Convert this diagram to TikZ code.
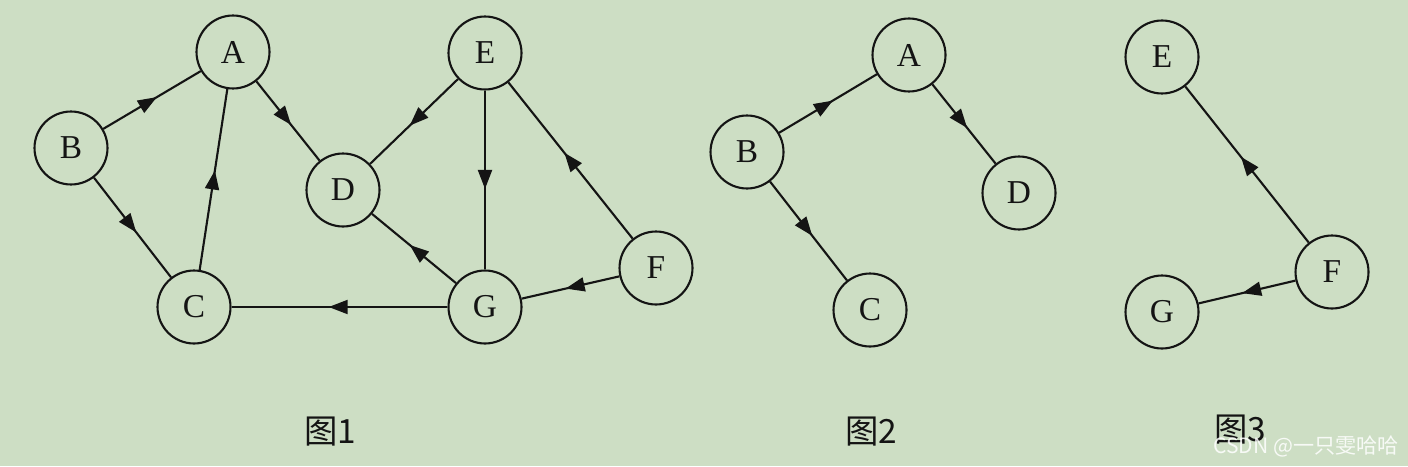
\documentclass[tikz,border=0pt]{standalone}
\usepackage{fontspec}
\setmainfont{Liberation Serif}
\newfontfamily\cjk{Noto Sans CJK SC}
\usepackage{tikz}
\usetikzlibrary{arrows.meta,decorations.markings}
\definecolor{paper}{RGB}{205,222,196}
\definecolor{inkc}{RGB}{20,20,20}
\tikzset{
  vtx/.style={circle, draw=inkc, line width=1.2pt, minimum size=1.46cm,
    inner sep=0pt, font=\fontsize{19}{19}\selectfont, text=inkc},
  edgeln/.style={line width=1.2pt, draw=inkc},
  midarr/.style={edgeln, postaction={decorate}, decoration={markings,
    mark=at position 0.55 with {\arrow{Triangle[length=3.8mm,width=2.8mm]}}}},
  caption/.style={font=\cjk\fontsize{19}{19}\selectfont, text=inkc},
}
\begin{document}
\begin{tikzpicture}[x=0.02cm, y=-0.02cm]
  % background
  \fill[paper] (0,0) rectangle (1408,466);
  \useasboundingbox (0,0) rectangle (1408,466);
  % figure 1
  \node[vtx] (A1) at (233,52) {A};
  \node[vtx] (B1) at (71,148) {B};
  \node[vtx] (C1) at (194,307) {C};
  \node[vtx] (D1) at (343,190) {D};
  \node[vtx] (E1) at (485,53) {E};
  \node[vtx] (G1) at (485,307) {G};
  \node[vtx] (F1) at (656,268) {F};
  \foreach \s/\t in {B1/A1, A1/D1, B1/C1, C1/A1, E1/D1, E1/G1, F1/E1,
                     G1/D1, F1/G1, G1/C1}
    \draw[midarr] (\s) -- (\t);
  % figure 2
  \node[vtx] (A2) at (909,55) {A};
  \node[vtx] (B2) at (747,152) {B};
  \node[vtx] (C2) at (870,310) {C};
  \node[vtx] (D2) at (1019,193) {D};
  \foreach \s/\t in {B2/A2, A2/D2, B2/C2}
    \draw[midarr] (\s) -- (\t);
  % figure 3
  \node[vtx] (E3) at (1162,57) {E};
  \node[vtx] (F3) at (1332,272) {F};
  \node[vtx] (G3) at (1162,312) {G};
  \foreach \s/\t in {F3/E3, F3/G3}
    \draw[midarr] (\s) -- (\t);
  % captions
  \node[caption] (cap1) at (330,432) {图1};
  \node[caption] (cap2) at (871,432) {图2};
  \node[caption] (cap3) at (1240,430) {图3};
  \node[font=\cjk\fontsize{12}{12}\selectfont, text=white, opacity=0.85]
    (mark) at (1306,446) {CSDN @一只雯哈哈};
\end{tikzpicture}
\end{document}
